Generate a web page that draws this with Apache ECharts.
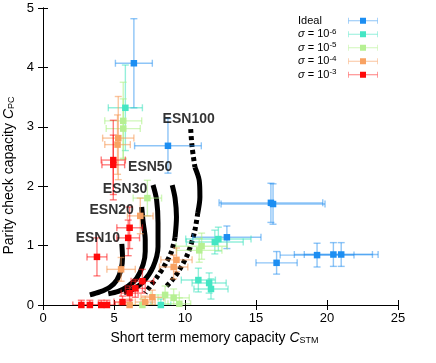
<!DOCTYPE html>
<html>
<head>
<meta charset="utf-8">
<script src="https://cdn.jsdelivr.net/npm/echarts@6/dist/echarts.min.js"></script>
<style>
html, body { margin: 0; padding: 0; background: #fff; }
#chart { width: 436px; height: 363px; }
</style>
</head>
<body>
<div id="chart"></div>
<script>
// point sets: [C_STM, C_PC, xerr, yerr]
const ideal = [
  [6.4, 4.07, 1.3, 0.75],
  [8.8, 2.68, 2.35, 0.46],
  [16.05, 1.72, 3.65, 0.33],
  [16.2, 1.70, 3.66, 0.34],
  [12.95, 1.14, 2.4, 0.19],
  [16.45, 0.71, 1.45, 0.19],
  [19.3, 0.84, 2.6, 0.2],
  [20.45, 0.85, 2.75, 0.2],
  [21.0, 0.85, 2.6, 0.2]
]
const sigma6 = [
  [5.8, 3.32, 1.2, 0.72],
  [12.35, 1.11, 2.3, 0.2],
  [12.1, 1.06, 2.0, 0.2],
  [10.94, 0.42, 1.2, 0.2],
  [11.7, 0.37, 1.2, 0.17],
  [11.83, 0.27, 1.2, 0.17],
  [8.3, 0.0, 0.7, 0.1]
]
const sigma5 = [
  [5.65, 3.1, 1.3, 0.65],
  [5.65, 2.97, 1.2, 0.5],
  [7.35, 1.8, 1.0, 0.3],
  [11.17, 0.99, 1.8, 0.22],
  [11.0, 0.92, 1.6, 0.2],
  [8.6, 0.17, 1.0, 0.15],
  [9.2, 0.12, 1.1, 0.15],
  [9.6, 0.02, 0.8, 0.1],
  [7.0, 0.0, 0.7, 0.1]
]
const sigma4 = [
  [5.3, 2.81, 1.1, 0.7],
  [5.25, 2.7, 0.9, 0.5],
  [6.85, 1.5, 0.9, 0.3],
  [5.5, 0.6, 1.0, 0.2],
  [9.4, 0.76, 1.1, 0.2],
  [9.2, 0.64, 1.0, 0.2],
  [7.7, 0.13, 0.8, 0.12],
  [6.1, 0.0, 0.8, 0.1],
  [7.2, 0.05, 0.7, 0.1]
]
const sigma3 = [
  [4.95, 2.44, 0.85, 0.67],
  [4.95, 2.36, 0.8, 0.5],
  [6.1, 1.3, 0.9, 0.35],
  [6.0, 1.13, 0.8, 0.3],
  [3.8, 0.81, 0.7, 0.32],
  [7.0, 0.4, 0.8, 0.2],
  [6.5, 0.28, 0.7, 0.15],
  [6.1, 0.2, 0.6, 0.12],
  [5.6, 0.05, 0.6, 0.1],
  [2.7, 0.0, 0.6, 0.08],
  [3.3, 0.0, 0.6, 0.08],
  [4.1, 0.0, 0.6, 0.08],
  [4.5, 0.0, 0.6, 0.08]
]

const setNames = ['Ideal', 's6', 's5', 's4', 's3']
const setLabels = ['{t|Ideal}', '{i|σ}{t| = 10}{p|-6}', '{i|σ}{t| = 10}{p|-5}', '{i|σ}{t| = 10}{p|-4}', '{i|σ}{t| = 10}{p|-3}']
const sets = [ideal, sigma6, sigma5, sigma4, sigma3]
const markerColors = ['#1c8ef2', '#44e6c4', '#b6f092', '#f8a262', '#ff0a0a']
const barColors = ['rgba(30,140,240,0.5)', 'rgba(60,225,190,0.55)', 'rgba(170,240,130,0.55)', 'rgba(245,150,80,0.55)', 'rgba(255,20,20,0.55)']

// ESN curves (top to bottom), with solid / dotted stretches by index
const esn10 = [[5.55, 1.03], [5.6, 0.8], [5.5, 0.6], [5.2, 0.42], [4.7, 0.3], [4.0, 0.22], [3.3, 0.17]]
const esn20 = [[6.95, 1.65], [7.05, 1.4], [7.2, 1.1], [7.2, 0.9], [7.05, 0.68], [6.6, 0.45], [6.0, 0.32], [5.3, 0.23], [4.6, 0.19]]
const esn30 = [[7.75, 2.02], [8.0, 1.77], [8.1, 1.38], [8.1, 0.98], [7.75, 0.64], [7.05, 0.39], [6.3, 0.26], [5.7, 0.21]]
const esn50 = [[9.1, 2.02], [9.3, 1.8], [9.4, 1.48], [9.3, 1.14], [9.05, 0.9], [8.6, 0.68], [8.0, 0.46], [7.5, 0.3], [7.2, 0.2]]
const esn100 = [[10.4, 2.96], [10.5, 2.66], [10.7, 2.32], [11.0, 2.1], [11.05, 1.82], [10.9, 1.55], [10.7, 1.26], [10.4, 1.0], [10.1, 0.81], [9.6, 0.59], [9.1, 0.42], [8.7, 0.32]]
const curveNames = ['ESN10', 'ESN20', 'ESN30', 'ESN50', 'ESN100']
const curves = [esn10, esn20, esn30, esn50, esn100]
const curveParts = [
  [[0, 6, 'solid']],
  [[0, 8, 'solid']],
  [[0, 7, 'solid']],
  [[0, 3, 'solid'], [3, 8, 'dot']],
  [[0, 2, 'dot'], [2, 5, 'solid'], [5, 11, 'dot']]
]
const labelOffsets = [[-24, -6], [-30, 3], [-28, 4], [-22, -18], [-2, -10]]

const xTicks = { min: 0, max: 25, interval: 5 }
const yTicks = { min: 0, max: 5, interval: 1 }

const FONT = '"Liberation Sans", Arial, Helvetica, sans-serif'
const chart = echarts.init(document.getElementById('chart'), null, { renderer: 'canvas' })

const errorBars = (color) => (params, api) => {
  const x = api.value(0), y = api.value(1), dx = api.value(2), dy = api.value(3)
  const l = api.coord([x - dx, y]), r = api.coord([x + dx, y])
  const t = api.coord([x, y + dy]), b = api.coord([x, y - dy])
  const cap = 3.5
  const segs = [
    [l, r], [t, b],
    [[l[0], l[1] - cap], [l[0], l[1] + cap]],
    [[r[0], r[1] - cap], [r[0], r[1] + cap]],
    [[t[0] - cap, t[1]], [t[0] + cap, t[1]]],
    [[b[0] - cap, b[1]], [b[0] + cap, b[1]]]
  ]
  return {
    type: 'group',
    children: segs.map((s) => ({
      type: 'line',
      shape: { x1: s[0][0], y1: s[0][1], x2: s[1][0], y2: s[1][1] },
      style: { stroke: color, lineWidth: 1.4 }
    }))
  }
}

const series = []

// curves first
curves.forEach((pts, ci) => {
  curveParts[ci].forEach(([a, b, kind]) => {
    series.push({
      name: curveNames[ci],
      type: 'line',
      data: pts.slice(a, b + 1),
      symbol: 'none',
      smooth: 0.3,
      silent: true,
      lineStyle: {
        color: '#000',
        width: 5,
        cap: 'butt',
        type: kind === 'dot' ? [4, 3] : 'solid'
      },
      z: 2
    })
  })
})

sets.forEach((pts, i) => {
  series.push({
    name: setNames[i],
    type: 'custom',
    renderItem: errorBars(barColors[i]),
    data: pts,
    clip: true,
    encode: { x: 0, y: 1 },
    z: 3
  })
  series.push({
    name: setNames[i],
    type: 'scatter',
    data: pts.map((p) => [p[0], p[1]]),
    symbol: 'rect',
    symbolSize: 6.5,
    itemStyle: { color: markerColors[i], opacity: 1 },
    z: 3
  })
})

// curve labels, anchored at the top of each curve
series.push({
  type: 'scatter',
  silent: true,
  symbolSize: 1,
  itemStyle: { color: 'rgba(0,0,0,0)' },
  data: curves.map((pts, ci) => ({
    value: pts[0],
    label: {
      show: true,
      position: 'inside',
      offset: labelOffsets[ci],
      formatter: curveNames[ci],
      color: '#000',
      fontWeight: 'bold',
      fontSize: 14,
      fontFamily: FONT
    }
  })),
  z: 10
})

const legendText = {
  fontSize: 11,
  lineHeight: 13.5,
  fontFamily: FONT,
  color: '#000'
}

const barIcon = 'path://M0,3.4h40v1.2h-40z M0,0h1v8h-1z M39,0h1v8h-1z'

const axisCommon = {
  type: 'value',
  axisLine: { show: true, lineStyle: { color: '#000', width: 1 } },
  axisTick: { show: true, inside: true, length: 5, lineStyle: { color: '#000' } },
  splitLine: { show: false }
}

chart.setOption({
  animation: false,
  backgroundColor: '#fff',
  grid: { left: 43, right: 38, top: 8, bottom: 58, containLabel: false, outerBoundsMode: 'none' },
  legend: [
    {
      data: setNames.map((n, i) => ({ name: n, icon: barIcon, itemStyle: { color: barColors[i] } })),
      orient: 'vertical',
      left: 298,
      top: 14,
      padding: 0,
      align: 'right',
      itemWidth: 40,
      itemHeight: 6,
      itemGap: 0,
      selectedMode: false,
      formatter: (n) => setLabels[setNames.indexOf(n)],
      textStyle: Object.assign({}, legendText, {
        width: 40,
        rich: {
          t: { fontSize: 11, fontFamily: FONT, align: 'left', color: '#000' },
          i: { fontSize: 11, fontFamily: FONT, fontStyle: 'italic', align: 'left', color: '#000' },
          p: { fontSize: 8, fontFamily: FONT, align: 'left', verticalAlign: 'top', lineHeight: 9, color: '#000' }
        }
      })
    },
    {
      data: setNames.map((n, i) => ({ name: n, icon: 'rect', itemStyle: { color: markerColors[i] } })),
      orient: 'vertical',
      left: 360,
      top: 14,
      padding: 0,
      itemWidth: 6,
      itemHeight: 6,
      itemGap: 0,
      selectedMode: false,
      formatter: () => ' ',
      textStyle: Object.assign({}, legendText, { color: 'rgba(0,0,0,0)' })
    }
  ],
  xAxis: [
    Object.assign({}, axisCommon, xTicks, {
      position: 'bottom',
      name: 'Short term memory capacity {i|C}{s|STM}',
      nameLocation: 'middle',
      nameGap: 26,
      nameTextStyle: {
        fontSize: 14,
        fontFamily: FONT,
        color: '#000',
        padding: [0, 12, 0, 0],
        rich: {
          i: { fontSize: 14, fontFamily: FONT, fontStyle: 'italic', color: '#000' },
          s: { fontSize: 9, fontFamily: FONT, color: '#000', verticalAlign: 'bottom', lineHeight: 10 }
        }
      },
      axisLabel: { color: '#000', fontSize: 13, fontFamily: FONT, margin: 7 }
    }),
    Object.assign({}, axisCommon, xTicks, {
      position: 'top',
      axisLabel: { show: false }
    })
  ],
  yAxis: [
    Object.assign({}, axisCommon, yTicks, {
      position: 'left',
      name: 'Parity check capacity {i|C}{s|PC}',
      nameLocation: 'middle',
      nameGap: 22,
      nameTextStyle: {
        fontSize: 14,
        fontFamily: FONT,
        color: '#000',
        padding: [0, 38, 0, 0],
        rich: {
          i: { fontSize: 14, fontFamily: FONT, fontStyle: 'italic', color: '#000' },
          s: { fontSize: 9, fontFamily: FONT, color: '#000', verticalAlign: 'bottom', lineHeight: 10 }
        }
      },
      axisLabel: { color: '#000', fontSize: 13, fontFamily: FONT, margin: 9 }
    }),
    Object.assign({}, axisCommon, yTicks, {
      position: 'right',
      axisLabel: { show: false }
    })
  ],
  series
})
</script>
</body>
</html>
